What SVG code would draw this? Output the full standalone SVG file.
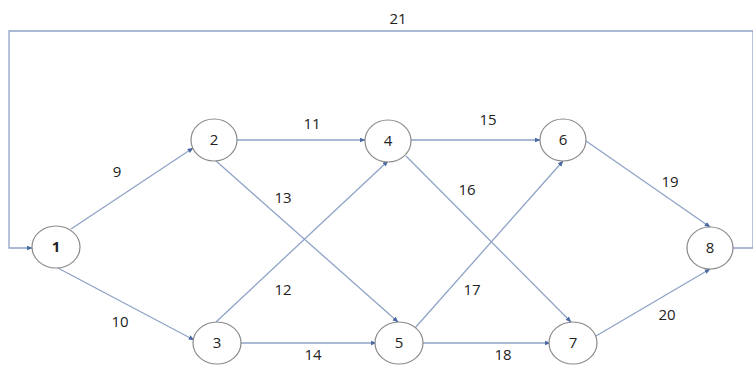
<svg xmlns="http://www.w3.org/2000/svg" width="753" height="365" viewBox="0 0 753 365">
<style>
.e{fill:none;stroke:#8fa3c6;stroke-width:1.3}
.n ellipse{fill:#fff;stroke:#8a8a8a;stroke-width:1.2}
.n text,.l{font-family:"Open Sans","Liberation Sans",sans-serif;font-size:15px;fill:#222;text-anchor:middle}
</style>
<defs>
<marker id="a" viewBox="0 0 10 10" refX="9" refY="5" markerWidth="6" markerHeight="6" orient="auto" markerUnits="userSpaceOnUse">
<path d="M0,1 L10,5 L0,9 Z" fill="#4a69a3"/>
</marker>
</defs>
<rect width="753" height="365" fill="#fff"/>
<g id="connectors">
<path class="e" d="M733,248 H753 V31 H9 V248 H32" marker-end="url(#a)"/>
<line class="e" x1="71" y1="229" x2="193" y2="148" marker-end="url(#a)"/>
<line class="e" x1="56" y1="267" x2="194" y2="340" marker-end="url(#a)"/>
<line class="e" x1="237" y1="140" x2="365" y2="140" marker-end="url(#a)"/>
<line class="e" x1="215" y1="160" x2="398" y2="322" marker-end="url(#a)"/>
<line class="e" x1="216" y1="322" x2="388" y2="161" marker-end="url(#a)"/>
<line class="e" x1="240" y1="343" x2="376" y2="343" marker-end="url(#a)"/>
<line class="e" x1="411" y1="140" x2="540" y2="140" marker-end="url(#a)"/>
<line class="e" x1="406" y1="156" x2="571" y2="322" marker-end="url(#a)"/>
<line class="e" x1="415" y1="328" x2="563" y2="161" marker-end="url(#a)"/>
<line class="e" x1="422" y1="343" x2="550" y2="343" marker-end="url(#a)"/>
<line class="e" x1="586" y1="141" x2="710" y2="227" marker-end="url(#a)"/>
<line class="e" x1="596" y1="336" x2="710" y2="269" marker-end="url(#a)"/>
</g>
<g id="labels">
<text class="l" x="398" y="24">21</text>
<text class="l" x="117" y="177">9</text>
<text class="l" x="120" y="327">10</text>
<text class="l" x="312" y="129">11</text>
<text class="l" x="283" y="203">13</text>
<text class="l" x="488" y="125">15</text>
<text class="l" x="467" y="195">16</text>
<text class="l" x="283" y="295">12</text>
<text class="l" x="472" y="295">17</text>
<text class="l" x="670" y="187">19</text>
<text class="l" x="667" y="320">20</text>
<text class="l" x="313" y="360">14</text>
<text class="l" x="503" y="360">18</text>
</g>
<g id="node1" class="n"><ellipse cx="56" cy="247" rx="24" ry="21"/><text x="56" y="252" font-weight="bold">1</text></g>
<g id="node2" class="n"><ellipse cx="214" cy="140" rx="23" ry="21"/><text x="214" y="145">2</text></g>
<g id="node3" class="n"><ellipse cx="217" cy="343" rx="24" ry="21"/><text x="217" y="348">3</text></g>
<g id="node4" class="n"><ellipse cx="388" cy="141" rx="23" ry="21"/><text x="388" y="146">4</text></g>
<g id="node5" class="n"><ellipse cx="399" cy="343" rx="24" ry="21"/><text x="399" y="348">5</text></g>
<g id="node6" class="n"><ellipse cx="563" cy="140" rx="23" ry="21"/><text x="563" y="145">6</text></g>
<g id="node7" class="n"><ellipse cx="573" cy="343" rx="24" ry="21"/><text x="573" y="348">7</text></g>
<g id="node8" class="n"><ellipse cx="710" cy="248" rx="23" ry="21"/><text x="710" y="253">8</text></g>
</svg>
